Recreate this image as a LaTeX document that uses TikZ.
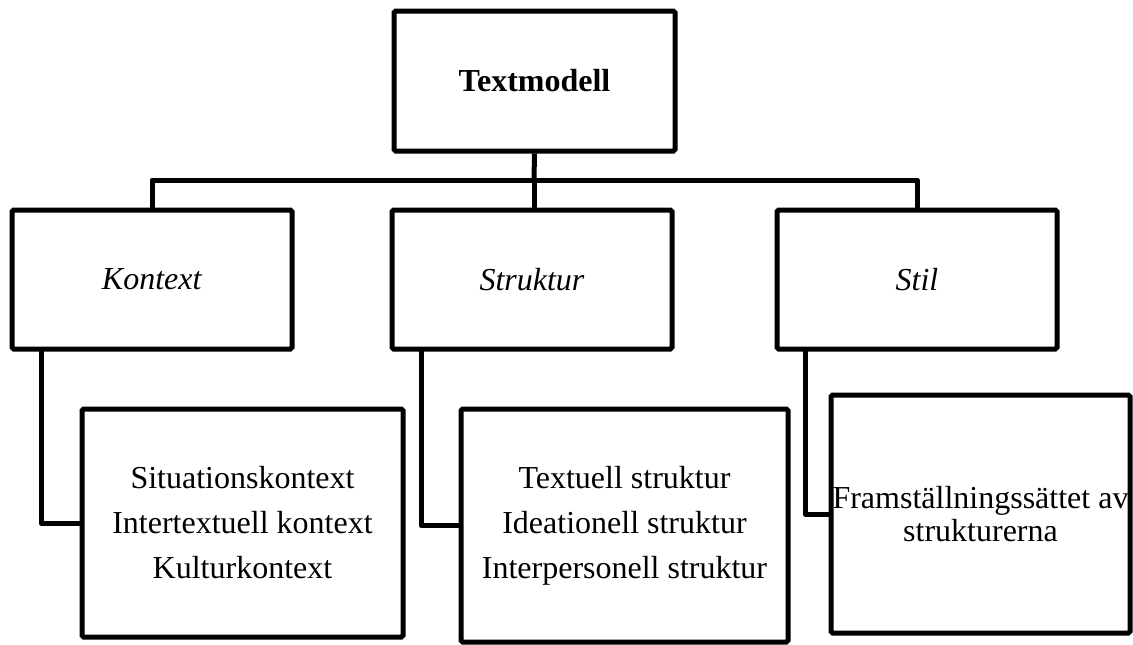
\documentclass[tikz,border=0pt]{standalone}
\usepackage{fontspec}
\setmainfont{Liberation Serif}
\begin{document}
\begin{tikzpicture}[x=0.75pt,y=-0.75pt,
  box/.style={draw=black,line width=3.75pt,rounded corners=1.2pt,inner sep=0pt,
    align=center,font=\fontsize{24}{33.75}\selectfont},
  conn/.style={draw=black,line width=3.75pt,line join=round}]
\useasboundingbox (0,0) rectangle (1133,644);
\node[box,minimum width=210.75pt,minimum height=105pt] (top) at (534.5,81) {\textbf{Textmodell}};
\node[box,minimum width=210pt,minimum height=104.25pt] (kontext) at (152,279.5) {\textit{Kontext}};
\node[box,minimum width=210pt,minimum height=104.25pt] (struktur) at (532,279.5) {\textit{Struktur}};
\node[box,minimum width=210pt,minimum height=104.25pt] (stil) at (917,279.5) {\textit{Stil}};
\node[box,minimum width=240.75pt,minimum height=171pt] (ksub) at (242.5,523)
  {Situationskontext\\Intertextuell kontext\\Kulturkontext};
\node[box,minimum width=245.25pt,minimum height=174.75pt] (ssub) at (624.5,525.5)
  {Textuell struktur\\Ideationell struktur\\Interpersonell struktur};
\node[box,minimum width=224.25pt,minimum height=178.5pt,font=\fontsize{24}{24.75}\selectfont] (tsub) at (980.5,514)
  {Framställningssättet av\\strukturerna};
\coordinate (j) at (534,180);
\draw[conn] (top.south) -- (j);
\draw[conn] (kontext.north) |- (j) -| (stil.north);
\draw[conn] (j) -- (j |- struktur.north);
\coordinate (kc) at (41,349);
\coordinate (sc) at (421,349);
\coordinate (tc) at (805,349);
\draw[conn] (kc) |- (ksub.west);
\draw[conn] (sc) |- (ssub.west);
\draw[conn] (tc) |- (tsub.west);
\end{tikzpicture}
\end{document}
